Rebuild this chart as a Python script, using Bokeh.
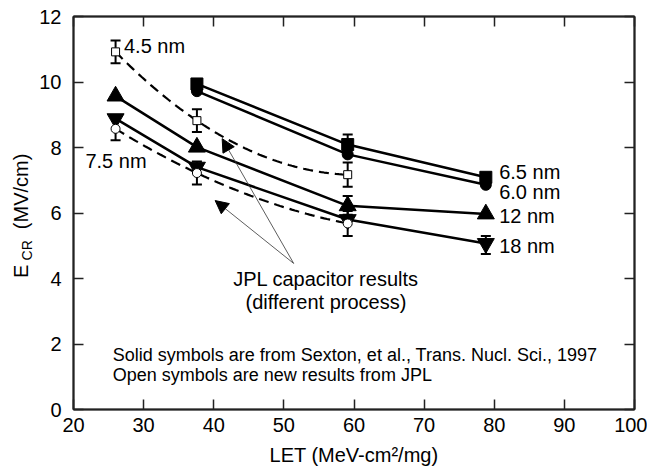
import numpy as np
from bokeh.plotting import figure
from bokeh.layouts import row
from bokeh.models import (Range1d, LinearAxis, FixedTicker, ColumnDataSource, Whisker,
                          TeeHead, Arrow, NormalHead)
from bokeh.core.properties import value
from bokeh.embed import file_html
from bokeh.resources import INLINE

FONT = "Liberation Sans"

# ---------------- data ----------------
x_tick_values = [20, 30, 40, 50, 60, 70, 80, 90, 100]
y_tick_values = [0, 2, 4, 6, 8, 10, 12]

# Solid symbols (Sexton et al.)
let_65 = [37.6, 59.1, 78.8]
ecr_65 = [9.94, 8.09, 7.09]
let_60 = [37.6, 59.1, 78.8]
ecr_60 = [9.72, 7.79, 6.86]
let_12 = [26.0, 37.6, 59.1, 78.8]
ecr_12 = [9.57, 8.01, 6.22, 5.97]
let_18 = [26.0, 37.6, 59.1, 78.8]
ecr_18 = [8.88, 7.40, 5.80, 5.07]

# Open symbols (JPL)
let_45 = [26.0, 37.6, 59.1]
ecr_45 = [10.92, 8.82, 7.17]
let_75 = [26.0, 37.6, 59.1]
ecr_75 = [8.57, 7.22, 5.68]

# error bars
err_x = [26.0, 37.6, 59.1, 26.0, 37.6, 59.1, 59.1, 59.1, 78.8]
err_lo = [10.57, 8.47, 6.80, 8.22, 6.87, 5.30, 7.80, 5.95, 4.75]
err_hi = [11.27, 9.17, 7.54, 8.92, 7.57, 6.06, 8.40, 6.52, 5.30]

series_labels = ["4.5 nm", "7.5 nm", "6.5 nm", "6.0 nm", "12 nm", "18 nm"]
series_label_x = [27.2, 21.7, 80.7, 80.7, 80.7, 80.7]
series_label_y = [11.09, 7.6, 7.25, 6.64, 5.90, 5.00]

note_lines = ["Solid symbols are from Sexton, et al., Trans. Nucl. Sci., 1997",
              "Open symbols are new results from JPL"]
jpl_lines = ["JPL capacitor results", "(different process)"]

x_title = "LET (MeV-cm\u00b2/mg)"
y_title_parts = ["E", "CR", "(MV/cm)"]

# ---------------- shared y range ----------------
y_rng = Range1d(0, 12)

# ---------------- y-title strip ----------------
LW = 36
lab = figure(width=LW, height=470, output_backend="svg", toolbar_location=None,
             x_range=Range1d(0, LW), y_range=y_rng,
             x_axis_type=None, y_axis_type=None, title=None,
             min_border=0, min_border_left=0, min_border_right=0,
             min_border_top=0, min_border_bottom=0)
lab.outline_line_color = None
lab.xgrid.visible = False
lab.ygrid.visible = False
# centres of each piece (x in strip pixels, y in the plot's value units)
lab.text([20, 26, 20], [4.22, 4.86, 6.66], text=y_title_parts, angle=np.pi / 2,
         text_font=value(FONT), text_font_size=["20px", "14px", "20px"],
         text_align="center", text_baseline="middle", text_color="black")

# ---------------- main figure ----------------
p = figure(width=647 - LW, height=470, output_backend="svg", toolbar_location=None,
           x_range=Range1d(20, 100), y_range=y_rng,
           min_border_left=71 - LW, min_border_right=13, min_border_top=16, min_border_bottom=61)
p.xgrid.visible = False
p.ygrid.visible = False
p.outline_line_color = "black"
p.outline_line_width = 1.5
p.background_fill_color = "white"
p.border_fill_color = "white"


def style_axis(ax, ticks, show_labels=True):
    ax.ticker = FixedTicker(ticks=ticks)
    ax.axis_line_color = "#222222"
    ax.axis_line_width = 2
    ax.major_tick_in = 10
    ax.major_tick_out = 0
    ax.major_tick_line_width = 1.5
    ax.major_tick_line_color = "#222222"
    ax.minor_tick_line_color = None
    ax.major_label_text_font = FONT
    if show_labels:
        ax.major_label_text_font_size = "20px"
        ax.major_label_text_color = "black"
    else:
        ax.major_label_text_font_size = "1px"
        ax.major_label_text_color = None
        ax.major_label_standoff = 0


style_axis(p.xaxis[0], x_tick_values)
style_axis(p.yaxis[0], y_tick_values)
p.xaxis[0].major_label_standoff = 8
p.yaxis[0].major_label_standoff = 12
p.xaxis[0].axis_label = x_title
p.xaxis[0].axis_label_text_font = FONT
p.xaxis[0].axis_label_text_font_style = "normal"
p.xaxis[0].axis_label_text_font_size = "20px"
p.xaxis[0].axis_label_text_color = "black"
p.xaxis[0].axis_label_standoff = 9

top_ax = LinearAxis()
style_axis(top_ax, x_tick_values, show_labels=False)
p.add_layout(top_ax, "above")
right_ax = LinearAxis()
style_axis(right_ax, y_tick_values, show_labels=False)
p.add_layout(right_ax, "right")

# ---------------- lines ----------------
lw = 2.5
p.line(let_65, ecr_65, line_color="black", line_width=lw)
p.line(let_60, ecr_60, line_color="black", line_width=lw)
p.line(let_12, ecr_12, line_color="black", line_width=lw)
p.line(let_18, ecr_18, line_color="black", line_width=lw)

# dashed smooth curves through the JPL points
for xs, ys in [(let_45, ecr_45), (let_75, ecr_75)]:
    c = np.polyfit(xs, ys, 2)
    xx = np.linspace(xs[0], xs[-1], 80)
    p.line(xx, np.polyval(c, xx), line_color="black", line_width=2.2, line_dash="10 6")

# ---------------- error bars ----------------
esrc = ColumnDataSource(dict(x=err_x, lo=err_lo, hi=err_hi))
wh = Whisker(base="x", lower="lo", upper="hi", source=esrc, dimension="height",
             line_color="black", line_width=2,
             upper_head=TeeHead(size=10, line_width=2, line_color="black"),
             lower_head=TeeHead(size=10, line_width=2, line_color="black"))
p.add_layout(wh)

# ---------------- markers ----------------
p.scatter(let_65, ecr_65, marker="square", size=12, fill_color="black", line_color="black")
p.scatter(let_60, ecr_60, marker="circle", size=11, fill_color="black", line_color="black")
p.scatter(let_12, ecr_12, marker="triangle", size=17, fill_color="black", line_color="black")
p.scatter(let_18, ecr_18, marker="inverted_triangle", size=17, fill_color="black", line_color="black")
p.scatter(let_45, ecr_45, marker="square", size=8, fill_color="white", line_color="black", line_width=1)
p.scatter(let_75, ecr_75, marker="circle", size=9, fill_color="white", line_color="black", line_width=1)

# ---------------- text ----------------
p.text(series_label_x, series_label_y, text=series_labels, text_font=value(FONT),
       text_font_size="20px", text_align="left", text_baseline="middle", text_color="black")
p.text([56.0, 56.0], [4.0, 3.27], text=jpl_lines, text_font=value(FONT),
       text_font_size="20px", text_align="center", text_baseline="middle", text_color="black")
p.text([25.6, 25.6], [1.65, 1.04], text=note_lines, text_font=value(FONT),
       text_font_size="18px", text_align="left", text_baseline="middle", text_color="black")

# arrows
for (xe, ye) in [(41.2, 8.27), (40.2, 6.38)]:
    p.add_layout(Arrow(x_start=51.4, y_start=4.46, x_end=xe, y_end=ye,
                       line_color="#333333", line_width=0.8,
                       end=NormalHead(size=13, fill_color="black", line_color="black", line_width=1)))

layout = row(lab, p)
open("out.html", "w").write(file_html(layout, INLINE))
